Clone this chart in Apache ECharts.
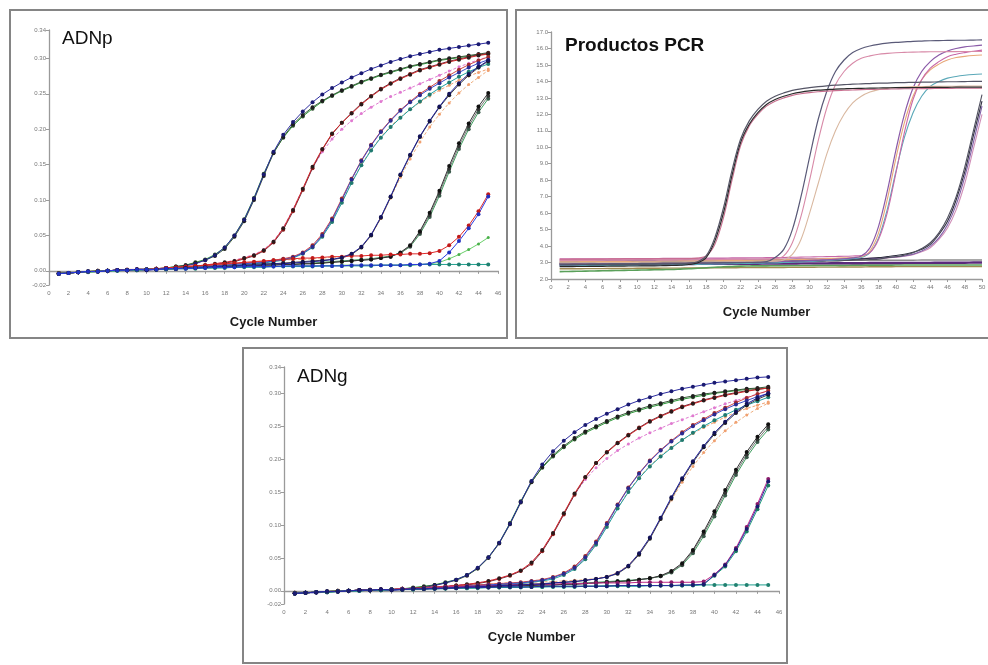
<!DOCTYPE html>
<html><head><meta charset="utf-8">
<script src="https://cdn.jsdelivr.net/npm/echarts@6/dist/echarts.min.js"></script>
<style>html,body{margin:0;padding:0;background:#fff}#c{width:988px;height:665px}</style>
</head><body><div id="c"></div>
<script>
// ---------- shared categories / ticks ----------
const cycles45 = [1,2,3,4,5,6,7,8,9,10,11,12,13,14,15,16,17,18,19,20,21,22,23,24,25,26,27,28,29,30,31,32,33,34,35,36,37,38,39,40,41,42,43,44,45];
const cycles50 = [1,2,3,4,5,6,7,8,9,10,11,12,13,14,15,16,17,18,19,20,21,22,23,24,25,26,27,28,29,30,31,32,33,34,35,36,37,38,39,40,41,42,43,44,45,46,47,48,49,50];
const yTicksADN = [-0.02,0.00,0.05,0.10,0.15,0.20,0.25,0.30,0.34];

// ---------- ADNp (panel 1) ----------
const pA1 = [-0.004,-0.003,-0.002,-0.001,-0.001,0.000,0.001,0.001,0.002,0.001,0.002,0.004,0.005,0.007,0.010,0.015,0.022,0.033,0.050,0.072,0.102,0.136,0.168,0.192,0.210,0.225,0.238,0.249,0.258,0.266,0.273,0.279,0.285,0.290,0.295,0.299,0.303,0.306,0.309,0.312,0.314,0.316,0.318,0.320,0.322];
const pA2 = [-0.004,-0.003,-0.002,-0.001,-0.001,0.000,0.001,0.001,0.002,0.002,0.003,0.004,0.006,0.008,0.011,0.015,0.021,0.031,0.048,0.070,0.100,0.134,0.166,0.189,0.207,0.220,0.231,0.240,0.248,0.255,0.261,0.267,0.272,0.277,0.281,0.285,0.289,0.292,0.295,0.298,0.300,0.302,0.304,0.306,0.308];
const pA3 = [-0.003,-0.003,-0.002,-0.001,0.000,0.000,0.001,0.001,0.002,0.002,0.003,0.004,0.006,0.008,0.012,0.016,0.023,0.033,0.050,0.073,0.103,0.137,0.167,0.188,0.205,0.218,0.229,0.239,0.247,0.254,0.260,0.266,0.271,0.276,0.280,0.284,0.288,0.291,0.294,0.297,0.299,0.301,0.303,0.305,0.306];
const pB1 = [-0.004,-0.003,-0.002,-0.001,-0.001,0.000,0.001,0.001,0.002,0.002,0.003,0.004,0.005,0.006,0.007,0.008,0.010,0.012,0.014,0.018,0.022,0.029,0.041,0.060,0.086,0.116,0.147,0.172,0.194,0.209,0.222,0.235,0.246,0.256,0.264,0.271,0.277,0.283,0.287,0.291,0.295,0.298,0.301,0.304,0.306];
const pB2 = [-0.003,-0.003,-0.002,-0.001,0.000,0.000,0.001,0.001,0.002,0.002,0.003,0.003,0.004,0.005,0.006,0.008,0.009,0.011,0.013,0.017,0.021,0.028,0.040,0.058,0.084,0.114,0.145,0.171,0.193,0.209,0.223,0.236,0.247,0.257,0.265,0.272,0.278,0.284,0.288,0.292,0.296,0.299,0.302,0.305,0.307];
const pB3 = [-0.004,-0.003,-0.002,-0.001,-0.001,0.000,0.001,0.001,0.002,0.002,0.003,0.003,0.004,0.005,0.006,0.008,0.010,0.012,0.015,0.019,0.023,0.030,0.042,0.061,0.087,0.116,0.145,0.168,0.186,0.200,0.212,0.222,0.231,0.239,0.246,0.252,0.258,0.264,0.270,0.276,0.282,0.288,0.293,0.298,0.302];
const pC1 = [-0.004,-0.003,-0.002,-0.001,-0.001,0.000,0.001,0.001,0.002,0.002,0.002,0.003,0.003,0.004,0.005,0.006,0.007,0.008,0.009,0.010,0.011,0.012,0.014,0.016,0.019,0.025,0.034,0.050,0.072,0.100,0.129,0.155,0.177,0.196,0.212,0.226,0.238,0.248,0.257,0.265,0.273,0.280,0.287,0.293,0.298];
const pC2 = [-0.003,-0.003,-0.002,-0.001,0.000,0.000,0.001,0.002,0.002,0.002,0.003,0.003,0.004,0.005,0.006,0.007,0.008,0.009,0.010,0.011,0.012,0.013,0.015,0.017,0.020,0.026,0.036,0.052,0.074,0.102,0.130,0.156,0.178,0.197,0.213,0.227,0.239,0.250,0.259,0.268,0.276,0.284,0.291,0.297,0.302];
const pC3 = [-0.004,-0.003,-0.002,-0.001,-0.001,0.000,0.001,0.001,0.002,0.002,0.003,0.003,0.004,0.005,0.006,0.007,0.008,0.009,0.010,0.011,0.012,0.013,0.015,0.017,0.019,0.025,0.034,0.049,0.070,0.097,0.125,0.150,0.171,0.189,0.204,0.217,0.228,0.238,0.247,0.255,0.262,0.269,0.275,0.280,0.285];
const pC4 = [-0.004,-0.003,-0.002,-0.002,-0.001,0.000,0.000,0.001,0.001,0.002,0.002,0.003,0.003,0.004,0.005,0.006,0.006,0.007,0.008,0.009,0.010,0.011,0.013,0.015,0.018,0.024,0.033,0.048,0.069,0.096,0.124,0.149,0.170,0.188,0.203,0.216,0.228,0.239,0.249,0.258,0.266,0.274,0.281,0.287,0.292];
const pD1 = [-0.004,-0.003,-0.002,-0.001,-0.001,0.000,0.001,0.001,0.002,0.001,0.002,0.003,0.003,0.004,0.004,0.005,0.006,0.006,0.007,0.008,0.008,0.009,0.010,0.010,0.011,0.012,0.013,0.014,0.016,0.019,0.024,0.034,0.051,0.076,0.105,0.136,0.164,0.190,0.212,0.232,0.250,0.265,0.278,0.288,0.297];
const pD2 = [-0.003,-0.003,-0.002,-0.001,0.000,0.000,0.001,0.001,0.002,0.002,0.003,0.003,0.004,0.005,0.006,0.007,0.008,0.009,0.010,0.011,0.012,0.013,0.014,0.015,0.016,0.016,0.017,0.018,0.019,0.020,0.024,0.033,0.050,0.074,0.103,0.132,0.158,0.182,0.203,0.221,0.237,0.251,0.263,0.273,0.283];
const pD3 = [-0.004,-0.003,-0.002,-0.001,-0.001,0.000,0.001,0.001,0.002,0.002,0.002,0.003,0.003,0.004,0.005,0.005,0.006,0.007,0.007,0.008,0.009,0.010,0.010,0.011,0.012,0.013,0.014,0.015,0.016,0.018,0.023,0.033,0.050,0.075,0.104,0.135,0.163,0.189,0.211,0.231,0.248,0.263,0.276,0.287,0.296];
const pE1 = [-0.004,-0.003,-0.002,-0.001,-0.001,0.000,0.001,0.001,0.002,0.002,0.002,0.003,0.003,0.004,0.004,0.005,0.005,0.006,0.006,0.007,0.007,0.008,0.008,0.009,0.009,0.010,0.010,0.011,0.012,0.013,0.014,0.015,0.016,0.018,0.020,0.026,0.036,0.056,0.082,0.113,0.148,0.180,0.208,0.232,0.251];
const pE2 = [-0.003,-0.003,-0.002,-0.001,0.000,0.000,0.001,0.001,0.002,0.002,0.002,0.003,0.004,0.004,0.005,0.005,0.006,0.006,0.007,0.007,0.008,0.008,0.009,0.009,0.009,0.010,0.011,0.012,0.013,0.014,0.015,0.016,0.017,0.019,0.021,0.025,0.034,0.052,0.076,0.106,0.140,0.172,0.200,0.224,0.243];
const pE3 = [-0.004,-0.003,-0.002,-0.001,-0.001,0.000,0.001,0.001,0.001,0.002,0.002,0.003,0.003,0.004,0.004,0.005,0.005,0.006,0.006,0.007,0.007,0.008,0.008,0.009,0.009,0.010,0.010,0.011,0.012,0.013,0.014,0.015,0.016,0.018,0.020,0.025,0.035,0.054,0.079,0.110,0.144,0.176,0.204,0.228,0.247];
const pF1 = [-0.004,-0.003,-0.002,-0.001,-0.001,0.000,0.001,0.001,0.002,0.002,0.003,0.004,0.005,0.006,0.007,0.008,0.009,0.010,0.011,0.012,0.013,0.014,0.015,0.016,0.017,0.018,0.018,0.019,0.020,0.020,0.021,0.021,0.022,0.022,0.023,0.023,0.024,0.024,0.025,0.028,0.036,0.048,0.064,0.084,0.108];
const pF2 = [-0.004,-0.003,-0.002,-0.001,-0.001,0.000,0.001,0.001,0.002,0.002,0.002,0.003,0.003,0.003,0.004,0.004,0.005,0.005,0.005,0.006,0.006,0.006,0.006,0.007,0.007,0.007,0.007,0.007,0.007,0.007,0.008,0.008,0.008,0.008,0.008,0.008,0.009,0.009,0.010,0.014,0.026,0.042,0.060,0.080,0.105];
const pG  = [-0.004,-0.003,-0.002,-0.002,-0.001,0.000,0.000,0.001,0.001,0.002,0.002,0.002,0.003,0.003,0.004,0.004,0.004,0.005,0.005,0.005,0.006,0.006,0.006,0.006,0.007,0.007,0.007,0.007,0.007,0.008,0.008,0.008,0.008,0.008,0.008,0.008,0.008,0.009,0.010,0.012,0.017,0.023,0.030,0.038,0.047];
const pH  = [-0.004,-0.003,-0.002,-0.001,-0.001,0.000,0.000,0.001,0.001,0.002,0.002,0.002,0.003,0.003,0.003,0.004,0.004,0.004,0.005,0.005,0.005,0.005,0.006,0.006,0.006,0.006,0.006,0.007,0.007,0.007,0.007,0.007,0.007,0.008,0.008,0.008,0.008,0.009,0.009,0.009,0.009,0.009,0.009,0.009,0.009];

// ---------- ADNg (panel 3) ----------
const gA1 = [-0.004,-0.003,-0.003,-0.002,-0.001,0.000,0.000,0.001,0.002,0.001,0.002,0.004,0.005,0.008,0.012,0.017,0.024,0.035,0.051,0.073,0.102,0.135,0.167,0.192,0.212,0.228,0.241,0.252,0.261,0.269,0.276,0.283,0.289,0.294,0.299,0.303,0.307,0.310,0.313,0.316,0.318,0.320,0.322,0.324,0.325];
const gA2 = [-0.004,-0.003,-0.002,-0.002,-0.001,0.000,0.001,0.001,0.002,0.002,0.003,0.004,0.006,0.009,0.012,0.016,0.023,0.034,0.050,0.072,0.101,0.134,0.165,0.188,0.206,0.220,0.232,0.242,0.250,0.258,0.265,0.271,0.276,0.281,0.285,0.289,0.293,0.296,0.299,0.301,0.303,0.305,0.307,0.308,0.310];
const gA3 = [-0.003,-0.003,-0.002,-0.001,0.000,0.000,0.001,0.001,0.002,0.002,0.003,0.005,0.007,0.009,0.013,0.017,0.024,0.034,0.051,0.073,0.103,0.136,0.166,0.187,0.204,0.218,0.230,0.240,0.248,0.256,0.263,0.269,0.274,0.279,0.283,0.287,0.291,0.294,0.297,0.300,0.302,0.304,0.306,0.307,0.308];
const gB1 = [-0.004,-0.003,-0.002,-0.001,-0.001,0.000,0.001,0.001,0.002,0.002,0.003,0.004,0.005,0.006,0.007,0.008,0.010,0.012,0.015,0.019,0.024,0.031,0.043,0.062,0.088,0.118,0.148,0.173,0.194,0.210,0.224,0.236,0.247,0.257,0.265,0.272,0.279,0.284,0.289,0.293,0.297,0.300,0.303,0.306,0.308];
const gB2 = [-0.003,-0.003,-0.002,-0.001,0.000,0.000,0.001,0.001,0.002,0.002,0.003,0.003,0.004,0.005,0.006,0.008,0.009,0.011,0.014,0.018,0.023,0.030,0.041,0.060,0.086,0.116,0.146,0.172,0.194,0.211,0.225,0.237,0.248,0.258,0.266,0.273,0.280,0.285,0.290,0.294,0.298,0.301,0.304,0.306,0.308];
const gB3 = [-0.004,-0.003,-0.002,-0.001,-0.001,0.000,0.001,0.001,0.002,0.002,0.003,0.003,0.004,0.005,0.007,0.009,0.010,0.012,0.015,0.019,0.024,0.031,0.043,0.062,0.088,0.117,0.146,0.169,0.187,0.201,0.213,0.223,0.232,0.240,0.247,0.254,0.260,0.266,0.272,0.278,0.284,0.289,0.294,0.299,0.303];
const gC1 = [-0.004,-0.003,-0.002,-0.001,-0.001,0.000,0.001,0.001,0.002,0.002,0.002,0.003,0.003,0.004,0.005,0.006,0.007,0.008,0.009,0.010,0.011,0.012,0.014,0.016,0.020,0.026,0.035,0.051,0.073,0.101,0.130,0.156,0.178,0.197,0.213,0.227,0.239,0.250,0.259,0.268,0.276,0.283,0.289,0.295,0.300];
const gC2 = [-0.003,-0.003,-0.002,-0.001,0.000,0.000,0.001,0.002,0.002,0.002,0.003,0.003,0.004,0.005,0.006,0.007,0.008,0.009,0.010,0.011,0.012,0.013,0.015,0.017,0.021,0.027,0.037,0.053,0.075,0.103,0.131,0.157,0.179,0.198,0.214,0.228,0.241,0.252,0.261,0.270,0.278,0.286,0.293,0.299,0.304];
const gC3 = [-0.004,-0.003,-0.002,-0.001,-0.001,0.000,0.001,0.001,0.002,0.002,0.003,0.003,0.004,0.005,0.006,0.007,0.008,0.009,0.010,0.011,0.012,0.013,0.015,0.017,0.019,0.025,0.034,0.049,0.071,0.098,0.126,0.151,0.172,0.190,0.205,0.218,0.229,0.239,0.248,0.256,0.264,0.271,0.277,0.282,0.287];
const gC4 = [-0.004,-0.003,-0.002,-0.002,-0.001,0.000,0.000,0.001,0.001,0.002,0.002,0.003,0.003,0.004,0.005,0.006,0.006,0.007,0.008,0.009,0.010,0.011,0.013,0.015,0.018,0.024,0.033,0.048,0.070,0.097,0.125,0.150,0.171,0.189,0.204,0.217,0.229,0.240,0.250,0.259,0.267,0.275,0.282,0.288,0.294];
const gD1 = [-0.004,-0.003,-0.002,-0.001,-0.001,0.000,0.001,0.001,0.002,0.001,0.002,0.003,0.003,0.004,0.004,0.005,0.006,0.006,0.007,0.008,0.008,0.009,0.010,0.010,0.012,0.013,0.014,0.016,0.018,0.021,0.027,0.038,0.057,0.081,0.111,0.142,0.171,0.197,0.220,0.240,0.257,0.272,0.284,0.293,0.300];
const gD2 = [-0.003,-0.003,-0.002,-0.001,0.000,0.000,0.001,0.001,0.002,0.002,0.003,0.003,0.004,0.005,0.006,0.007,0.008,0.009,0.010,0.011,0.012,0.013,0.013,0.014,0.014,0.015,0.016,0.017,0.019,0.022,0.028,0.039,0.057,0.080,0.109,0.138,0.165,0.189,0.210,0.228,0.243,0.256,0.267,0.277,0.285];
const gD3 = [-0.004,-0.003,-0.002,-0.001,-0.001,0.000,0.001,0.001,0.002,0.002,0.002,0.003,0.003,0.004,0.005,0.005,0.006,0.007,0.007,0.008,0.009,0.010,0.010,0.011,0.012,0.013,0.014,0.016,0.018,0.021,0.026,0.037,0.055,0.079,0.109,0.140,0.169,0.195,0.218,0.238,0.255,0.270,0.282,0.291,0.298];
const gE1 = [-0.004,-0.003,-0.002,-0.001,-0.001,0.000,0.001,0.001,0.002,0.002,0.002,0.003,0.003,0.004,0.004,0.005,0.005,0.006,0.006,0.007,0.007,0.008,0.008,0.009,0.009,0.010,0.010,0.011,0.012,0.013,0.014,0.015,0.017,0.019,0.023,0.030,0.042,0.062,0.090,0.121,0.153,0.184,0.211,0.234,0.253];
const gE2 = [-0.003,-0.003,-0.002,-0.001,0.000,0.000,0.001,0.001,0.002,0.002,0.002,0.003,0.004,0.004,0.005,0.005,0.006,0.006,0.007,0.007,0.008,0.008,0.009,0.009,0.009,0.010,0.011,0.012,0.013,0.014,0.015,0.016,0.017,0.019,0.022,0.028,0.039,0.057,0.083,0.113,0.145,0.176,0.203,0.226,0.245];
const gE3 = [-0.004,-0.003,-0.002,-0.001,-0.001,0.000,0.001,0.001,0.001,0.002,0.002,0.003,0.003,0.004,0.004,0.005,0.005,0.006,0.006,0.007,0.007,0.008,0.008,0.009,0.009,0.010,0.010,0.011,0.012,0.013,0.014,0.015,0.017,0.019,0.022,0.029,0.040,0.060,0.087,0.117,0.149,0.180,0.207,0.230,0.249];
const gF1 = [-0.004,-0.003,-0.002,-0.001,-0.001,0.000,0.001,0.001,0.002,0.002,0.003,0.003,0.004,0.005,0.006,0.006,0.007,0.007,0.008,0.008,0.009,0.009,0.010,0.010,0.010,0.011,0.011,0.011,0.012,0.012,0.012,0.012,0.013,0.013,0.013,0.013,0.013,0.013,0.014,0.025,0.040,0.065,0.097,0.132,0.170];
const gF2 = [-0.004,-0.003,-0.002,-0.002,-0.001,0.000,0.000,0.001,0.001,0.002,0.002,0.002,0.003,0.003,0.004,0.004,0.004,0.005,0.005,0.005,0.006,0.006,0.006,0.006,0.007,0.007,0.007,0.007,0.007,0.008,0.008,0.008,0.008,0.008,0.008,0.008,0.008,0.009,0.010,0.023,0.037,0.060,0.090,0.124,0.160];
const gF3 = [-0.004,-0.003,-0.002,-0.001,-0.001,0.000,0.001,0.001,0.002,0.002,0.002,0.003,0.003,0.003,0.004,0.004,0.005,0.005,0.005,0.006,0.006,0.006,0.006,0.007,0.007,0.007,0.007,0.007,0.007,0.007,0.008,0.008,0.008,0.008,0.008,0.008,0.009,0.009,0.010,0.024,0.039,0.063,0.094,0.128,0.166];
const gH  = [-0.004,-0.003,-0.002,-0.001,-0.001,0.000,0.000,0.001,0.001,0.002,0.002,0.002,0.003,0.003,0.003,0.004,0.004,0.004,0.005,0.005,0.005,0.005,0.006,0.006,0.006,0.006,0.006,0.007,0.007,0.007,0.007,0.007,0.007,0.008,0.008,0.008,0.008,0.008,0.009,0.009,0.009,0.009,0.009,0.009,0.009];

// ---------- Productos PCR (panel 2) ----------
const r1a = [2.85,2.86,2.86,2.87,2.87,2.87,2.88,2.88,2.88,2.89,2.89,2.90,2.90,2.91,2.92,2.95,3.05,3.4,4.5,6.3,8.6,10.5,11.6,12.3,12.8,13.1,13.3,13.45,13.55,13.62,13.68,13.73,13.77,13.8,13.83,13.85,13.87,13.89,13.9,13.92,13.93,13.94,13.95,13.96,13.97,13.98,13.98,13.99,14.0,14.0];
const r1b = [2.75,2.75,2.76,2.76,2.77,2.77,2.78,2.78,2.79,2.79,2.80,2.80,2.81,2.82,2.84,2.88,2.98,3.3,4.3,6.0,8.3,10.3,11.4,12.1,12.6,12.9,13.1,13.25,13.35,13.42,13.47,13.5,13.53,13.55,13.57,13.58,13.59,13.6,13.61,13.62,13.62,13.63,13.63,13.64,13.64,13.64,13.65,13.65,13.65,13.65];
const r1c = [3.20,3.20,3.21,3.21,3.21,3.21,3.22,3.22,3.22,3.22,3.22,3.23,3.23,3.23,3.23,3.24,3.27,3.4,4.1,5.7,8.0,10.1,11.3,12.0,12.5,12.8,13.0,13.15,13.25,13.32,13.37,13.41,13.44,13.46,13.48,13.5,13.51,13.52,13.53,13.54,13.55,13.55,13.56,13.56,13.57,13.57,13.58,13.58,13.58,13.58];
const r2a = [2.90,2.90,2.91,2.91,2.92,2.92,2.93,2.93,2.94,2.94,2.95,2.95,2.96,2.96,2.97,2.97,2.98,2.98,2.99,2.99,3.00,3.00,3.01,3.02,3.05,3.3,3.8,5.0,7.0,9.4,11.7,13.4,14.6,15.3,15.75,16.0,16.15,16.25,16.32,16.37,16.4,16.43,16.45,16.47,16.48,16.49,16.5,16.5,16.51,16.52];
const r2b = [3.12,3.12,3.13,3.13,3.13,3.14,3.14,3.14,3.15,3.15,3.15,3.16,3.16,3.16,3.17,3.17,3.17,3.18,3.18,3.18,3.19,3.19,3.20,3.20,3.21,3.23,3.4,4.2,5.8,8.0,10.4,12.4,13.8,14.6,15.1,15.4,15.55,15.65,15.7,15.74,15.76,15.78,15.79,15.8,15.8,15.81,15.81,15.82,15.82,15.82];
const r2c = [2.98,2.98,2.99,2.99,2.99,3.00,3.00,3.00,3.00,3.01,3.01,3.01,3.02,3.02,3.02,3.03,3.03,3.03,3.04,3.04,3.05,3.05,3.06,3.06,3.07,3.08,3.15,3.5,4.4,6.0,7.8,9.6,11.0,12.0,12.7,13.1,13.35,13.5,13.58,13.63,13.66,13.68,13.69,13.7,13.7,13.71,13.71,13.72,13.72,13.72];
const r3a = [2.92,2.92,2.92,2.93,2.93,2.93,2.94,2.94,2.94,2.95,2.95,2.96,2.96,2.97,2.97,2.98,2.98,2.99,3.00,3.00,3.01,3.02,3.03,3.04,3.05,3.06,3.07,3.08,3.10,3.12,3.14,3.16,3.19,3.23,3.28,3.4,3.9,5.2,7.3,9.8,12.0,13.6,14.6,15.2,15.6,15.85,16.0,16.1,16.15,16.2];
const r3b = [3.05,3.05,3.05,3.06,3.06,3.06,3.07,3.07,3.07,3.08,3.08,3.08,3.09,3.09,3.10,3.10,3.10,3.11,3.11,3.12,3.12,3.13,3.13,3.14,3.15,3.16,3.17,3.18,3.19,3.20,3.22,3.24,3.26,3.28,3.31,3.35,3.7,4.8,6.8,9.3,11.5,13.1,14.1,14.7,15.05,15.3,15.45,15.52,15.57,15.6];
const r3c = [2.80,2.80,2.81,2.81,2.82,2.82,2.83,2.83,2.84,2.84,2.85,2.85,2.86,2.86,2.87,2.88,2.89,2.90,2.91,2.92,2.93,2.94,2.95,2.96,2.97,2.98,3.00,3.02,3.04,3.06,3.09,3.12,3.15,3.19,3.24,3.30,3.6,4.5,6.2,8.5,10.6,12.1,13.1,13.7,14.0,14.2,14.3,14.37,14.42,14.45];
const r3d = [3.22,3.22,3.22,3.22,3.23,3.23,3.23,3.23,3.24,3.24,3.24,3.24,3.25,3.25,3.25,3.26,3.26,3.26,3.27,3.27,3.28,3.28,3.29,3.29,3.30,3.30,3.31,3.32,3.33,3.34,3.35,3.36,3.37,3.38,3.40,3.43,3.60,4.4,6.0,8.4,10.9,12.9,14.1,14.8,15.2,15.5,15.65,15.75,15.83,15.9];
const r4a = [2.85,2.85,2.86,2.86,2.87,2.87,2.88,2.88,2.89,2.89,2.90,2.90,2.91,2.91,2.92,2.93,2.94,2.95,2.96,2.97,2.98,2.99,3.00,3.01,3.02,3.03,3.04,3.05,3.06,3.07,3.08,3.09,3.10,3.12,3.14,3.16,3.18,3.2,3.3,3.35,3.45,3.6,3.85,4.2,4.8,5.7,7.0,8.8,11.0,13.2];
const r4b = [3.10,3.10,3.10,3.11,3.11,3.11,3.12,3.12,3.12,3.13,3.13,3.13,3.14,3.14,3.14,3.15,3.15,3.15,3.16,3.16,3.16,3.17,3.17,3.17,3.18,3.18,3.18,3.19,3.19,3.19,3.20,3.20,3.21,3.22,3.23,3.24,3.25,3.27,3.3,3.34,3.4,3.5,3.7,4.0,4.5,5.3,6.5,8.2,10.3,12.5];
const r4c = [3.18,3.18,3.18,3.18,3.19,3.19,3.19,3.19,3.20,3.20,3.20,3.20,3.20,3.21,3.21,3.21,3.21,3.21,3.22,3.22,3.22,3.22,3.22,3.23,3.23,3.23,3.23,3.23,3.24,3.24,3.24,3.24,3.24,3.24,3.25,3.25,3.25,3.25,3.28,3.32,3.38,3.48,3.65,3.9,4.4,5.1,6.2,7.8,9.9,12.0];
const r4d = [2.95,2.95,2.95,2.96,2.96,2.96,2.97,2.97,2.97,2.98,2.98,2.98,2.99,2.99,2.99,3.00,3.00,3.00,3.01,3.01,3.02,3.02,3.03,3.03,3.04,3.05,3.06,3.07,3.08,3.09,3.10,3.12,3.14,3.16,3.19,3.22,3.26,3.3,3.36,3.42,3.5,3.62,3.8,4.1,4.7,5.5,6.8,8.5,10.7,12.8];
const q1 = [3.02,3.02,3.03,3.03,3.03,3.04,3.04,3.04,3.05,3.05,3.05,3.06,3.06,3.06,3.07,3.07,3.07,3.08,3.08,3.08,3.09,3.09,3.09,3.10,3.10,3.10,3.11,3.11,3.11,3.12,3.12,3.12,3.12,3.13,3.13,3.13,3.13,3.14,3.14,3.14,3.14,3.14,3.15,3.15,3.15,3.15,3.15,3.15,3.15,3.15];
const q2 = [2.45,2.46,2.47,2.48,2.49,2.50,2.51,2.52,2.53,2.54,2.55,2.56,2.57,2.58,2.60,2.62,2.65,2.68,2.71,2.74,2.76,2.78,2.79,2.80,2.80,2.81,2.81,2.82,2.82,2.82,2.83,2.83,2.83,2.83,2.84,2.84,2.84,2.84,2.84,2.85,2.85,2.85,2.85,2.85,2.85,2.85,2.85,2.85,2.85,2.85];
const q3 = [2.62,2.62,2.62,2.63,2.63,2.63,2.64,2.64,2.64,2.65,2.65,2.65,2.66,2.66,2.66,2.67,2.67,2.67,2.68,2.68,2.68,2.69,2.69,2.69,2.70,2.70,2.70,2.71,2.71,2.71,2.72,2.72,2.72,2.73,2.73,2.73,2.74,2.74,2.74,2.75,2.75,2.75,2.75,2.75,2.75,2.75,2.75,2.75,2.75,2.75];
const q4 = [2.88,2.88,2.88,2.88,2.89,2.89,2.89,2.89,2.90,2.90,2.90,2.90,2.91,2.91,2.91,2.91,2.92,2.92,2.92,2.92,2.93,2.93,2.93,2.93,2.94,2.94,2.94,2.94,2.95,2.95,2.95,2.95,2.96,2.96,2.96,2.96,2.97,2.97,2.97,2.97,2.98,2.98,2.98,2.98,2.99,2.99,2.99,2.99,3.00,3.00];

// ---------- styles (kept apart from data) ----------
const FONT = "'Liberation Sans', Arial, sans-serif";
const S = {
  A1:{line:'#2c2ca0',mark:'#1a1a70'}, A2:{line:'#3a5a3a',mark:'#1e1e1e'}, A3:{line:'#2e9a3a',mark:'#2a4a2a'},
  B1:{line:'#d02828',mark:'#2a1a1a'}, B2:{line:'#6a2a3a',mark:'#8a1a1a'}, B3:{line:'#e07ad0',mark:'#e07ad0',dash:true,size:3},
  C1:{line:'#3a4ac8',mark:'#2a2a90'}, C2:{line:'#d04848',mark:'#a02a2a'}, C3:{line:'#f0a070',mark:'#f0a070',dash:true,size:3},
  C4:{line:'#20a0a0',mark:'#207a70'}, D1:{line:'#1e1e9a',mark:'#12125a'}, D2:{line:'#f0b080',mark:'#f0a070',dash:true,size:3},
  D3:{line:'#444444',mark:'#1a1a1a'}, E1:{line:'#333333',mark:'#111111'}, E2:{line:'#40a060',mark:'#3a5a4a'},
  E3:{line:'#777777',mark:'#333333'}, F1:{line:'#e02a2a',mark:'#c01a1a'}, F2:{line:'#2a3ae0',mark:'#2030c0'},
  G:{line:'#6ad06a',mark:'#4ab04a',size:3}, H:{line:'#20a090',mark:'#208070'},
  gF1:{line:'#c02a8a',mark:'#8a1a6a'}, gF2:{line:'#2aa080',mark:'#1a7a60'}, gF3:{line:'#2a2aa0',mark:'#1a1a70'}
};
const panelP = [[pC3,'C3'],[pD2,'D2'],[pB3,'B3'],[pA3,'A3'],[pA2,'A2'],[pA1,'A1'],[pB2,'B2'],[pB1,'B1'],[pC4,'C4'],[pC2,'C2'],[pC1,'C1'],[pD3,'D3'],[pE2,'E2'],[pE3,'E3'],[pE1,'E1'],[pG,'G'],[pF1,'F1'],[pH,'H'],[pD1,'D1'],[pF2,'F2']];
const panelG = [[gC3,'C3'],[gD2,'D2'],[gB3,'B3'],[gA3,'A3'],[gA2,'A2'],[gA1,'A1'],[gB2,'B2'],[gB1,'B1'],[gC4,'C4'],[gC2,'C2'],[gC1,'C1'],[gD3,'D3'],[gE2,'E2'],[gE3,'E3'],[gE1,'E1'],[gF2,'gF2'],[gF1,'gF1'],[gH,'H'],[gD1,'D1'],[gF3,'gF3']];
const panelR = [[q3,'#a08a50',1.4],[q2,'#5aa05a',1.6],[q4,'#5a2a7a',2.4],[q1,'#8c8c8c',1.4],
  [r4c,'#d090b8',1.1],[r4b,'#8060a8',1.1],[r4d,'#303040',1.1],[r4a,'#505060',1.1],
  [r3c,'#5aa8b8',1.1],[r3b,'#e8a878',1.1],[r3d,'#c868a8',1.1],[r3a,'#8a5aa8',1.2],
  [r2c,'#d9b8a0',1.1],[r2b,'#d88aa8',1.1],[r2a,'#5a5a78',1.2],
  [r1c,'#c86f8f',1.1],[r1b,'#2a2a2a',1.2],[r1a,'#555566',1.2]];

const axisLine = {show:true, lineStyle:{color:'#9a9a9a', width:1.3}};
const tickStyle = {color:'#9a9a9a', width:1};
const lab = {fontSize:6, color:'#777', fontFamily:FONT};

function xAx(gi, max, gap){
  return {gridIndex:gi, type:'value', min:0, max:max, interval:2, splitLine:{show:false},
    axisLine:axisLine, axisTick:{show:true, length:3, lineStyle:tickStyle},
    axisLabel:Object.assign({margin:5}, lab),
    name:'Cycle Number', nameLocation:'middle', nameGap:gap,
    nameTextStyle:{fontSize:13, fontWeight:'bold', color:'#1a1a1a', fontFamily:FONT}};
}
function yAdn(gi){
  return {gridIndex:gi, type:'value', min:-0.02, max:0.34, splitLine:{show:false},
    axisLine:axisLine, axisTick:{show:true, length:3, lineStyle:tickStyle, customValues:yTicksADN},
    axisLabel:Object.assign({margin:3, customValues:yTicksADN, formatter:v=>v.toFixed(2)}, lab)};
}
function adnSeries(list, gi){
  return list.map(([arr,key])=>{
    const st = S[key];
    return {type:'line', xAxisIndex:gi, yAxisIndex:gi, silent:true, animation:false,
      data: cycles45.map((c,i)=>[c, arr[i]]),
      symbol:'circle', symbolSize: st.size || 4, showSymbol:true,
      lineStyle:{color:st.line, width:1, type: st.dash ? [3,2] : 'solid'},
      itemStyle:{color:st.mark}};
  });
}
const pcrSeries = panelR.map(([arr,col,w])=>({type:'line', xAxisIndex:1, yAxisIndex:1, silent:true, animation:false,
  data: cycles50.map((c,i)=>[c, arr[i]]), smooth:0.35, showSymbol:false, symbol:'none',
  lineStyle:{color:col, width:w}}));

const chart = echarts.init(document.getElementById('c'), null, {renderer:'canvas'});
chart.setOption({
  backgroundColor:'#ffffff',
  animation:false,
  textStyle:{fontFamily:FONT},
  grid:[
    {left:49, top:30, width:449, height:255, outerBoundsMode:'none'},
    {left:551, top:32, width:431, height:247, outerBoundsMode:'none'},
    {left:284, top:367, width:495, height:237, outerBoundsMode:'none'}
  ],
  xAxis:[xAx(0,46,31), xAx(1,50,27), xAx(2,46,27)],
  yAxis:[yAdn(0),
    {gridIndex:1, type:'value', min:2, max:17, interval:1, splitLine:{show:false},
     axisLine:axisLine, axisTick:{show:true, length:3, lineStyle:tickStyle},
     axisLabel:Object.assign({margin:3, formatter:v=>v.toFixed(1)}, lab)},
    yAdn(2)],
  series: [].concat(adnSeries(panelP,0), pcrSeries, adnSeries(panelG,2)),
  graphic:[
    {type:'rect', silent:true, z:-10, shape:{x:10,y:10,width:497,height:328}, style:{fill:'none', stroke:'#858585', lineWidth:2}},
    {type:'rect', silent:true, z:-10, shape:{x:516,y:10,width:480,height:328}, style:{fill:'none', stroke:'#858585', lineWidth:2}},
    {type:'rect', silent:true, z:-10, shape:{x:243,y:348,width:544,height:315}, style:{fill:'none', stroke:'#858585', lineWidth:2}},
    {type:'text', silent:true, x:62, y:39, style:{text:'ADNp', fontSize:19, fontFamily:FONT, fill:'#111', textVerticalAlign:'middle', verticalAlign:'middle'}},
    {type:'text', silent:true, x:565, y:46, style:{text:'Productos PCR', fontSize:19, fontWeight:'bold', fontFamily:FONT, fill:'#111', textVerticalAlign:'middle', verticalAlign:'middle'}},
    {type:'text', silent:true, x:297, y:377, style:{text:'ADNg', fontSize:19, fontFamily:FONT, fill:'#111', textVerticalAlign:'middle', verticalAlign:'middle'}}
  ]
});
</script>
</body></html>
